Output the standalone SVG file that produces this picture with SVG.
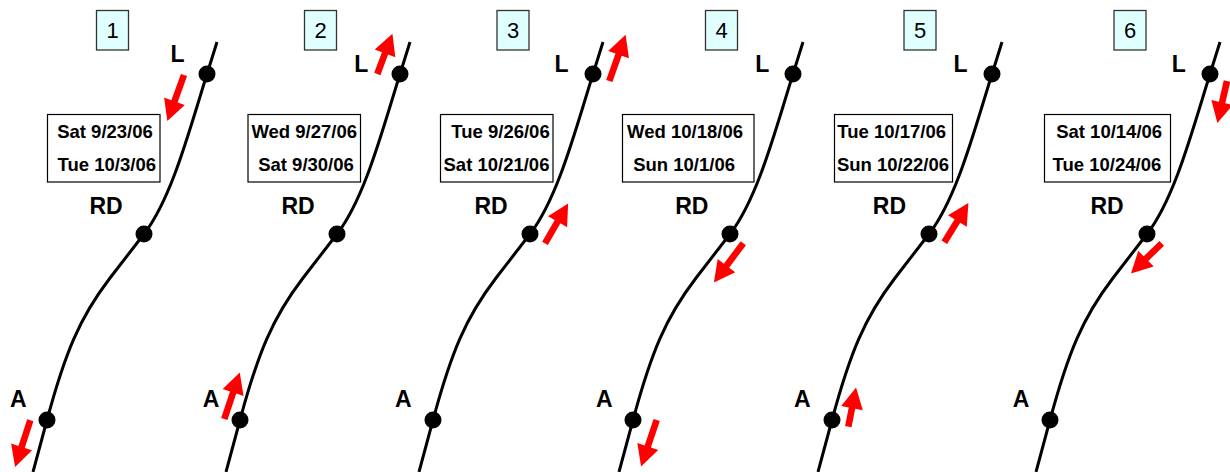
<svg xmlns="http://www.w3.org/2000/svg" xmlns:xlink="http://www.w3.org/1999/xlink" width="1230" height="472" viewBox="0 0 1230 472">
<style>
.track{fill:none;stroke:#000;stroke-width:3}
.dot{fill:#000}
.lbl{font-family:"Liberation Sans",Arial,sans-serif;font-weight:bold;font-size:23px;fill:#000}
.num{font-family:"Liberation Sans",Arial,sans-serif;font-size:22px;fill:#000;text-anchor:middle}
.numbox{fill:#e0ffff;stroke:#333;stroke-width:1.3}
.datebox{fill:#fff;stroke:#000;stroke-width:1.2}
.date{font-family:"Liberation Sans",Arial,sans-serif;font-weight:bold;font-size:18.5px;fill:#000}
.arr{fill:#ff0000}
</style>
<defs>
<path id="trk" d="M217,42 L207,74 C189.1,131.2 171.5,198.5 144,234 L110,278 C79.6,317.7 65.2,352.4 47,420 L33,472"/>
<g id="dots"><circle class="dot" cx="207" cy="74" r="8.5"/><circle class="dot" cx="144" cy="234" r="8.5"/><circle class="dot" cx="47" cy="420" r="8.5"/></g>
<polygon id="a49" points="0,-3.3 28,-3.3 28,-11 49,0 28,11 28,3.3 0,3.3"/>
<polygon id="a46" points="0,-3.3 25,-3.3 25,-11 46,0 25,11 25,3.3 0,3.3"/>
<polygon id="a43" points="0,-3.3 22,-3.3 22,-11 43,0 22,11 22,3.3 0,3.3"/>
<polygon id="a40" points="0,-3.3 19,-3.3 19,-11 40,0 19,11 19,3.3 0,3.3"/>
</defs>

<g id="connectors">
<use xlink:href="#trk" href="#trk" class="track"/>
<use xlink:href="#trk" href="#trk" class="track" transform="translate(193,0)"/>
<use xlink:href="#trk" href="#trk" class="track" transform="translate(386,0)"/>
<use xlink:href="#trk" href="#trk" class="track" transform="translate(586,0)"/>
<use xlink:href="#trk" href="#trk" class="track" transform="translate(785,0)"/>
<use xlink:href="#trk" href="#trk" class="track" transform="translate(1003,0)"/>
</g>

<g id="panel1">
<rect class="numbox" x="96.5" y="10.5" width="32" height="39.5"/>
<text class="num" x="112.5" y="38">1</text>
<rect class="datebox" x="47.5" y="114.5" width="112.5" height="67.5"/>
<text class="date" x="57.2" y="137.5">Sat 9/23/06</text>
<text class="date" x="57.6" y="170.5">Tue 10/3/06</text>
<text class="lbl" x="170.5" y="62">L</text>
<text class="lbl" x="89.5" y="214">RD</text>
<text class="lbl" x="10" y="407">A</text>
<use xlink:href="#dots" href="#dots"/>
<use xlink:href="#a49" href="#a49" class="arr" transform="translate(184,75) rotate(109.9)"/>
<use xlink:href="#a49" href="#a49" class="arr" transform="translate(30.3,420.3) rotate(108.1)"/>
</g>

<g id="panel2">
<rect class="numbox" x="304.5" y="10.5" width="32" height="39.5"/>
<text class="num" x="320.5" y="38">2</text>
<rect class="datebox" x="248" y="114.5" width="112.5" height="67.5"/>
<text class="date" x="251.4" y="137.5">Wed 9/27/06</text>
<text class="date" x="258.2" y="170.5">Sat 9/30/06</text>
<text class="lbl" x="354.2" y="71.5">L</text>
<text class="lbl" x="281.5" y="214">RD</text>
<text class="lbl" x="202.7" y="407">A</text>
<use xlink:href="#dots" href="#dots" transform="translate(193,0)"/>
<use xlink:href="#a43" href="#a43" class="arr" transform="translate(377.3,74) rotate(-69.4)"/>
<use xlink:href="#a49" href="#a49" class="arr" transform="translate(224.3,419) rotate(-71.6)"/>
</g>

<g id="panel3">
<rect class="numbox" x="497" y="10.5" width="32" height="39.5"/>
<text class="num" x="513" y="38">3</text>
<rect class="datebox" x="440.5" y="114.5" width="112.5" height="67.5"/>
<text class="date" x="451.3" y="137.5">Tue 9/26/06</text>
<text class="date" x="443.5" y="170.5">Sat 10/21/06</text>
<text class="lbl" x="554.5" y="71.5">L</text>
<text class="lbl" x="474.5" y="214">RD</text>
<text class="lbl" x="395" y="407">A</text>
<use xlink:href="#dots" href="#dots" transform="translate(386,0)"/>
<use xlink:href="#a49" href="#a49" class="arr" transform="translate(609.3,81) rotate(-70.6)"/>
<use xlink:href="#a46" href="#a46" class="arr" transform="translate(545,243.3) rotate(-59.8)"/>
</g>

<g id="panel4">
<rect class="numbox" x="705.5" y="10.5" width="32" height="39.5"/>
<text class="num" x="721.5" y="38">4</text>
<rect class="datebox" x="622.5" y="114.5" width="131.5" height="67.5"/>
<text class="date" x="627.1" y="137.5">Wed 10/18/06</text>
<text class="date" x="633.2" y="170.5">Sun 10/1/06</text>
<text class="lbl" x="755.2" y="71.5">L</text>
<text class="lbl" x="675.2" y="214">RD</text>
<text class="lbl" x="596" y="407">A</text>
<use xlink:href="#dots" href="#dots" transform="translate(586,0)"/>
<use xlink:href="#a49" href="#a49" class="arr" transform="translate(743.3,243.3) rotate(126.9)"/>
<use xlink:href="#a49" href="#a49" class="arr" transform="translate(656.7,420) rotate(108.6)"/>
</g>

<g id="panel5">
<rect class="numbox" x="904" y="10.5" width="32" height="39.5"/>
<text class="num" x="920" y="38">5</text>
<rect class="datebox" x="834.5" y="114.5" width="118" height="67.5"/>
<text class="date" x="837.3" y="137.5">Tue 10/17/06</text>
<text class="date" x="836.9" y="170.5">Sun 10/22/06</text>
<text class="lbl" x="953.5" y="71.5">L</text>
<text class="lbl" x="872.8" y="214">RD</text>
<text class="lbl" x="794" y="407">A</text>
<use xlink:href="#dots" href="#dots" transform="translate(785,0)"/>
<use xlink:href="#a46" href="#a46" class="arr" transform="translate(944.3,242.3) rotate(-58.4)"/>
<use xlink:href="#a40" href="#a40" class="arr" transform="translate(848.3,426.7) rotate(-78.8)"/>
</g>

<g id="panel6">
<rect class="numbox" x="1114" y="10.5" width="32" height="39.5"/>
<text class="num" x="1130" y="38">6</text>
<rect class="datebox" x="1044.5" y="114.5" width="126" height="67.5"/>
<text class="date" x="1056.2" y="137.5">Sat 10/14/06</text>
<text class="date" x="1052.6" y="170.5">Tue 10/24/06</text>
<text class="lbl" x="1171.8" y="71.5">L</text>
<text class="lbl" x="1090.5" y="214">RD</text>
<text class="lbl" x="1012.7" y="407">A</text>
<use xlink:href="#dots" href="#dots" transform="translate(1003,0)"/>
<use xlink:href="#a43" href="#a43" class="arr" transform="translate(1227,81) rotate(102.9)"/>
<use xlink:href="#a43" href="#a43" class="arr" transform="translate(1161.7,243.3) rotate(135.6)"/>
</g>
</svg>
